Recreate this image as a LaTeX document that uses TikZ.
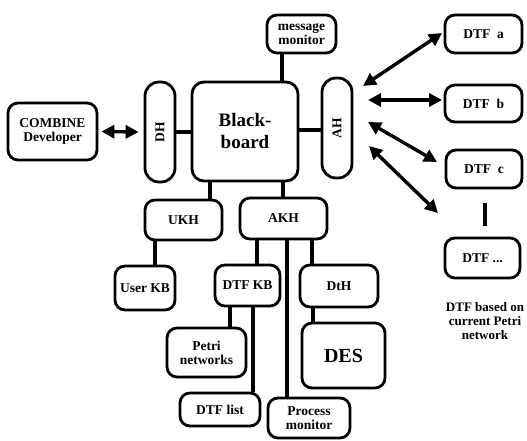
\documentclass[tikz,border=0pt]{standalone}
\usepackage{fontspec}
\setmainfont{Liberation Serif}
\usetikzlibrary{arrows.meta,calc}
\begin{document}
\begin{tikzpicture}[x=1pt,y=-1pt,
  lbl/.style={font=\fontsize{13.5}{14}\selectfont\bfseries},
  box/.style 2 args={draw,line width=2.8pt,rounded corners=10pt,align=center,inner sep=0pt,
     minimum width=#1,minimum height=#2,lbl},
  pill/.style={draw,line width=2.8pt,rounded corners=14pt,inner sep=0pt,
     minimum width=30pt,minimum height=100pt,lbl},
  conn/.style={line width=3.4pt},
  dbl/.style={line width=3.4pt,{Triangle[length=13pt,width=13pt]}-{Triangle[length=13pt,width=13pt]}}]
\useasboundingbox (0,0) rectangle (527,441);

% nodes
\node[box={89pt}{57pt}] (comb) at (52.5,131.5) {COMBINE\\Developer};
\node[pill] (dh) at (160,132) {\rotatebox{90}{DH}};
\node[box={106pt}{99pt},rounded corners=12pt,font=\fontsize{19}{22}\selectfont\bfseries] (bb) at (245,131.5) {Black-\\board};
\node[box={69pt}{38pt}] (msg) at (301.5,34) {message\\monitor};
\node[pill] (ah) at (337,128) {\rotatebox{90}{AH}};
\node[box={77pt}{38pt}] (dtfa) at (483.5,34) {DTF\enspace a};
\node[box={77pt}{37pt}] (dtfb) at (483.5,103.5) {DTF\enspace b};
\node[box={76pt}{38pt}] (dtfc) at (484,169) {DTF\enspace c};
\node[box={75pt}{40pt}] (dtfd) at (482.5,258) {DTF ...};
\node[lbl,align=center,font=\fontsize{13}{14}\selectfont\bfseries] (note) at (485,321) {DTF based on\\current Petri\\network};
\node[box={77pt}{40pt}] (ukh) at (183.5,220) {UKH};
\node[box={87pt}{41pt}] (akh) at (283.5,218.5) {AKH};
\node[box={60pt}{44pt}] (ukb) at (145,288) {User KB};
\node[box={65pt}{41pt}] (dkb) at (247.5,285.5) {DTF KB};
\node[box={78pt}{42pt}] (dth) at (339,286) {DtH};
\node[box={83pt}{65pt},font=\fontsize{20}{22}\selectfont\bfseries] (des) at (343.5,355.5) {DES};
\node[box={79pt}{49pt}] (petri) at (206.5,352.5) {Petri\\networks};
\node[box={80pt}{33pt}] (dlist) at (220,409.5) {DTF list};
\node[box={82pt}{40pt}] (proc) at (309,418) {Process\\monitor};

% x positions of vertical connectors
\coordinate (xm) at (282,0);
\coordinate (xu) at (210,0);
\coordinate (xa) at (283,0);
\coordinate (xub) at (155,0);
\coordinate (xdk) at (257,0);
\coordinate (xpm) at (287,0);
\coordinate (xdh) at (312,0);
\coordinate (xds) at (313,0);
\coordinate (xpn) at (230,0);
\coordinate (xdl) at (253,0);
\coordinate (ybb) at (0,132);
\coordinate (yah) at (0,130);

% connectors
\draw[conn] (dh.east |- ybb) -- (bb.west |- ybb);
\draw[conn] (bb.east |- yah) -- (ah.west |- yah);
\draw[conn] (msg.south -| xm) -- (bb.north -| xm);
\draw[conn] (bb.south -| xu) -- (ukh.north -| xu);
\draw[conn] (bb.south -| xa) -- (akh.north -| xa);
\draw[conn] (ukh.south -| xub) -- (ukb.north -| xub);
\draw[conn] (akh.south -| xdk) -- (dkb.north -| xdk);
\draw[conn] (akh.south -| xpm) -- (proc.north -| xpm);
\draw[conn] (akh.south -| xdh) -- (dth.north -| xdh);
\draw[conn] (dth.south -| xds) -- (des.north -| xds);
\draw[conn] (dkb.south -| xpn) -- (petri.north -| xpn);
\draw[conn] (dkb.south -| xdl) -- (dlist.north -| xdl);
\draw[line width=3.6pt] (dtfc.south) ++(1,14) coordinate (bar1) -- ++(0,23) coordinate (bar2);

% double arrows
\draw[dbl] ($(comb.east)+(3,0)$) -- ($(dh.west)+(-5,0)$);
\coordinate (a1) at (363,86);  \coordinate (a2) at (442,33);
\coordinate (b1) at (368,100); \coordinate (b2) at (442,100);
\coordinate (c1) at (368,122); \coordinate (c2) at (437,162);
\coordinate (d1) at (369,146); \coordinate (d2) at (438,213);
\draw[dbl] (a1) -- (a2);
\draw[dbl] (b1) -- (b2);
\draw[dbl] (c1) -- (c2);
\draw[dbl] (d1) -- (d2);
\end{tikzpicture}
\end{document}
